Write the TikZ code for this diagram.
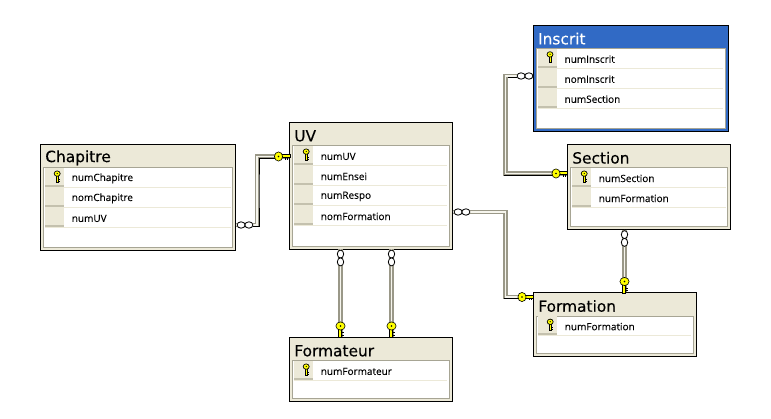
\documentclass[tikz,border=0pt]{standalone}
\usepackage{fontspec}
\setmainfont{DejaVu Sans}
\newfontfamily\titlefont[FakeBold=0.25]{DejaVu Sans}
\newfontfamily\rowfont[FakeBold=0.05]{Open Sans}
\usetikzlibrary{calc}
\definecolor{xpbeige}{HTML}{ECE9D8}
\definecolor{xpedge}{HTML}{A7A594}
\definecolor{xpline}{HTML}{9A9888}
\definecolor{xpbar}{HTML}{C4C1AE}
\definecolor{xpblue}{HTML}{316AC5}
\definecolor{keyyellow}{HTML}{FFFF00}
\tikzset{
  tablebox/.style={draw=black,line width=1pt,fill=xpbeige,inner sep=0pt,outer sep=0pt,anchor=north west},
  panelbox/.style={draw=xpedge,line width=1pt,fill=white,inner sep=0pt,outer sep=0pt,anchor=north west},
  titletext/.style={anchor=west,inner sep=0pt,font=\titlefont\fontsize{15.4}{17}\selectfont,text=black},
  rowtext/.style={anchor=west,inner sep=0pt,font=\rowfont\fontsize{10}{12}\selectfont,text=black},
  conngray/.style={draw=xpline,line width=4.6pt,line join=miter},
  connlight/.style={draw=xpbeige!45!white,line width=1.8pt,line join=miter},
  connshadow/.style={draw=black,line width=1pt},
  infring/.style={draw=black,fill=white,line width=0.8pt},
  keymetal/.style={draw=black,fill=keyyellow,line width=0.6pt},
}
% table: name, x, y, width, height, title, outer fill, title colour, rows
\newcommand{\dbtable}[9]{%
  \node[tablebox,fill=#7,minimum width=#4pt,minimum height=#5pt] (#1) at (#2,#3) {};
  \node[titletext,text=#8] (#1-title) at ([shift={(4.5,13.2)}]#1.north west) {#6};
  \node[panelbox,minimum width=#4pt-6.5pt,minimum height=#5pt-26.5pt] (#1-panel) at ([shift={(3.2,23.4)}]#1.north west) {};
  \foreach \rowlabel [count=\rowi] in {#9} {
    \pgfmathsetmacro{\rowtop}{(\rowi-1)*20}
    \fill[xpbeige] ([shift={(1,\rowtop)}]#1-panel.north west) rectangle ([shift={(20.5,\rowtop+20)}]#1-panel.north west);
    \fill[xpbar] ([shift={(1.6,\rowtop+17.2)}]#1-panel.north west) rectangle ([shift={(20,\rowtop+19.2)}]#1-panel.north west);
    \draw[xpbeige,line width=1pt] ([shift={(20.5,\rowtop+19.5)}]#1-panel.north west) -- ([shift={(-2,\rowtop+19.5)}]#1-panel.north east);
    \node[rowtext] (#1-row\rowi) at ([shift={(27.8,\rowtop+10.4)}]#1-panel.north west) {\rowlabel};
  }
  \pic at ([shift={(13.4,5.6)}]#1-panel.north west) {rowkey};
}
\tikzset{
  rowkey/.pic={
    \fill[keyyellow,draw=black,line width=0.6pt] (-1.1,2) rectangle (1.1,8.4);
    \draw[black,line width=0.8pt] (1.1,5.6) -- (2.4,5.6) (1.1,7.6) -- (2.4,7.6);
    \fill[keyyellow,draw=black,line width=0.7pt] (0,0) ellipse (3 and 2.7);
    \fill[black] (0,-0.1) circle (0.7);
  },
  bigkey/.pic={
    \fill[keyyellow,draw=black,line width=0.5pt] (2.5,-1.9) rectangle (11.5,1.2);
    \draw[black,line width=1pt] (7,1.2) -- (7,3.2) (9.2,1.2) -- (9.2,3.2) (11.2,1.2) -- (11.2,2.8);
    \draw[keymetal] (0,0) ellipse (4.1 and 4.6);
    \fill[black] (0,0) circle (0.9);
  },
  infh/.pic={
    \draw[infring] (-3.9,0) ellipse (4 and 3.2);
    \draw[infring] (3.9,0) ellipse (4 and 3.2);
  },
  infv/.pic={
    \draw[infring] (0,-3.9) ellipse (3.2 and 4);
    \draw[infring] (0,3.9) ellipse (3.2 and 4);
  },
}
\begin{document}
\begin{tikzpicture}[x=1pt,y=-1pt]
\useasboundingbox[fill=white] (0,0) rectangle (771,419);
% anchors for the connector ends
\coordinate (iChap) at (245,225);
\coordinate (kUV) at (278.5,156.5);
\coordinate (bendA) at (257,190);
\coordinate (iIns) at (525,76);
\coordinate (kSec) at (556,173.5);
\coordinate (bendB) at (505.5,120);
\coordinate (iUVf) at (462,212);
\coordinate (kFor) at (522,297);
\coordinate (bendC) at (505.5,250);
\coordinate (iSec) at (624.5,238.5);
\coordinate (kForS) at (624.5,281.5);
\coordinate (iUVa) at (340.5,258);
\coordinate (kFa) at (340.5,326);
\coordinate (iUVb) at (391.5,258);
\coordinate (kFb) at (391.5,326);
% tables
\dbtable{inscrit}{533.4}{25.4}{195.2}{105.8}{Inscrit}{xpblue}{white}{numInscrit,nomInscrit,numSection}
\dbtable{chapitre}{40.6}{144.6}{195.2}{105.6}{Chapitre}{xpbeige}{black}{numChapitre,nomChapitre,numUV}
\dbtable{uv}{289.6}{122.6}{163}{126.6}{UV}{xpbeige}{black}{numUV,numEnsei,numRespo,nomFormation}
\dbtable{section}{567.6}{144.6}{163.2}{85}{Section}{xpbeige}{black}{numSection,numFormation}
\dbtable{formation}{533.6}{292.8}{163}{63.6}{Formation}{xpbeige}{black}{numFormation}
\dbtable{formateur}{289.6}{337.6}{163}{63.6}{Formateur}{xpbeige}{black}{numFormateur}
% connectors
\foreach \lay in {conngray,connlight} {
  \draw[\lay] (chapitre.east |- iChap) -| (bendA) |- (uv.west |- kUV);
  \draw[\lay] (inscrit.west |- iIns) -| (bendB) |- (section.west |- kSec);
  \draw[\lay] (uv.east |- iUVf) -| (bendC) |- (formation.west |- kFor);
  \draw[\lay] (section.south -| iSec) -- (formation.north -| iSec);
  \draw[\lay] (uv.south -| iUVa) -- (formateur.north -| iUVa);
  \draw[\lay] (uv.south -| iUVb) -- (formateur.north -| iUVb);
}
% black edge along the lit side of the connectors
\draw[connshadow] (iChap) ++(8,1.4) -| ($(bendA)+(2,0)$) |- ($(kUV)+(-2,1.8)$);
\draw[connshadow] (iIns) ++(-8,1.4) -- ++(-9,0);
\draw[connshadow] ($(bendB |- kSec)+(-2,2)$) -- ($(kSec)+(-3,2)$);
\draw[connshadow] ($(bendC |- kFor)+(-2,2)$) -- ($(kFor)+(-3,2)$);
% line-end symbols
\pic at (iChap) {infh};
\pic at (iIns) {infh};
\pic at (iUVf) {infh};
\pic at (iSec) {infv};
\pic at (iUVa) {infv};
\pic at (iUVb) {infv};
\pic at (kUV) {bigkey};
\pic at (kSec) {bigkey};
\pic at (kFor) {bigkey};
\pic[rotate=-90,yscale=-1] at (kForS) {bigkey};
\pic[rotate=-90,yscale=-1] at (kFa) {bigkey};
\pic[rotate=-90,yscale=-1] at (kFb) {bigkey};
\end{tikzpicture}
\end{document}
